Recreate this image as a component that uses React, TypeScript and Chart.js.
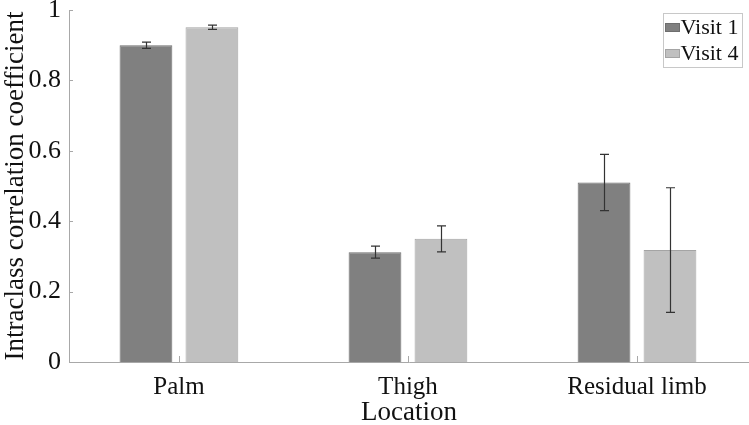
import React, { useEffect, useRef } from "react";
import { Chart, registerables } from "chart.js";

Chart.register(...registerables);

const categories = ["Palm", "Thigh", "Residual limb"];
const visit1 = [0.9, 0.312, 0.51];
const visit4 = [0.951, 0.35, 0.318];
const visit1Err = [0.009, 0.017, 0.08];
const visit4Err = [0.006, 0.037, 0.177];
const yTicks = [0, 0.2, 0.4, 0.6, 0.8, 1];
const seriesNames = ["Visit 1", "Visit 4"];

const FONT = "'Liberation Serif', 'Times New Roman', serif";
const AXIS = "#a8a8a8";

const errorPlugin = {
  id: "errorBars",
  afterDatasetsDraw(chart: any) {
    const ctx = chart.ctx;
    const y = chart.scales.y;
    const errs = [visit1Err, visit4Err];
    ctx.save();
    ctx.strokeStyle = "#333333";
    ctx.lineWidth = 1.2;
    chart.data.datasets.forEach((ds: any, di: number) => {
      const meta = chart.getDatasetMeta(di);
      meta.data.forEach((bar: any, i: number) => {
        const v = ds.data[i].y;
        const e = errs[di][i];
        const x = Math.round(bar.x) + 0.5;
        const yt = y.getPixelForValue(v + e);
        const yb = y.getPixelForValue(v - e);
        ctx.beginPath();
        ctx.moveTo(x, yt);
        ctx.lineTo(x, yb);
        ctx.moveTo(x - 4.5, yt);
        ctx.lineTo(x + 4.5, yt);
        ctx.moveTo(x - 4.5, yb);
        ctx.lineTo(x + 4.5, yb);
        ctx.stroke();
      });
    });
    ctx.restore();
  },
};

const axesPlugin = {
  id: "axesTicks",
  afterDraw(chart: any) {
    const ctx = chart.ctx;
    const { left, right, bottom, top } = chart.chartArea;
    const y = chart.scales.y;
    const x = chart.scales.x;
    ctx.save();
    ctx.strokeStyle = AXIS;
    ctx.lineWidth = 1;
    ctx.beginPath();
    ctx.moveTo(left + 0.5, top);
    ctx.lineTo(left + 0.5, bottom + 0.5);
    ctx.lineTo(right, bottom + 0.5);
    yTicks.forEach((t) => {
      const py = Math.round(y.getPixelForValue(t)) + 0.5;
      ctx.moveTo(left, py);
      ctx.lineTo(left + 4, py);
    });
    categories.forEach((_, i) => {
      const px = Math.round(x.getPixelForValue(i)) + 0.5;
      ctx.moveTo(px, bottom);
      ctx.lineTo(px, bottom - 6);
    });
    ctx.stroke();

    // legend
    const bx = 663.5, by = 13.5, bw = 79, bh = 54;
    ctx.fillStyle = "#ffffff";
    ctx.fillRect(bx, by, bw, bh);
    ctx.strokeStyle = "#c8c8c8";
    ctx.strokeRect(bx, by, bw, bh);
    const fills = ["#808080", "#c0c0c0"];
    const borders = ["#6e6e6e", "#a4a4a4"];
    ctx.font = `22px ${FONT}`;
    ctx.textBaseline = "middle";
    ctx.textAlign = "left";
    seriesNames.forEach((name, i) => {
      const cy = 27.5 + i * 26;
      ctx.fillStyle = fills[i];
      ctx.fillRect(665.5, cy - 4, 14, 8);
      ctx.strokeStyle = borders[i];
      ctx.strokeRect(665.5, cy - 4, 14, 8);
      ctx.fillStyle = "#111111";
      ctx.fillText(name, 680.5, cy + 1);
    });
    ctx.restore();
  },
};

export default function App() {
  const ref = useRef<HTMLCanvasElement | null>(null);
  useEffect(() => {
    document.body.style.margin = "0";
    const canvas = ref.current!;
    const mk = (vals: number[]) => vals.map((v, i) => ({ x: i, y: v }));
    const chart = new Chart(canvas, {
      type: "bar",
      data: {
        datasets: [
          {
            label: seriesNames[0],
            data: mk(visit1),
            backgroundColor: "#808080",
            borderColor: "#6e6e6e",
            borderWidth: 1,
            categoryPercentage: 0.576,
            barPercentage: 0.8,
          },
          {
            label: seriesNames[1],
            data: mk(visit4),
            backgroundColor: "#c0c0c0",
            borderColor: "#a4a4a4",
            borderWidth: 1,
            categoryPercentage: 0.576,
            barPercentage: 0.8,
          },
        ],
      },
      options: {
        animation: false,
        responsive: false,
        devicePixelRatio: 1,
        layout: { padding: { top: 10, right: 0, left: 0, bottom: 0 } },
        plugins: {
          legend: { display: false },
          tooltip: { enabled: false },
        },
        scales: {
          x: {
            type: "linear",
            min: -0.48,
            max: 2.489,
            offset: false,
            grid: { display: false, drawTicks: false },
            border: { display: false },
            afterBuildTicks: (s: any) => {
              s.ticks = categories.map((_, i) => ({ value: i }));
            },
            ticks: {
              color: "#111111",
              font: { family: FONT, size: 25 },
              padding: 10,
              maxRotation: 0,
              autoSkip: false,
              callback: (v: any) => categories[Math.round(Number(v))] ?? "",
            },
            title: {
              display: true,
              text: "Location",
              color: "#111111",
              font: { family: FONT, size: 27, lineHeight: 0.9 },
              padding: 0,
            },
            afterFit: (s: any) => {
              s.height = 63;
              s.paddingLeft = 0;
              s.paddingRight = 0;
            },
          },
          y: {
            min: 0,
            max: 1,
            grid: { display: false, drawTicks: false },
            border: { display: false },
            afterBuildTicks: (s: any) => {
              s.ticks = yTicks.map((v) => ({ value: v }));
            },
            ticks: {
              color: "#111111",
              font: { family: FONT, size: 26 },
              padding: 8,
              callback: (v: any) => String(Number(v)),
            },
            title: {
              display: true,
              text: "Intraclass correlation coefficient",
              color: "#111111",
              font: { family: FONT, size: 27 },
              padding: 0,
            },
            afterFit: (s: any) => {
              s.width = 69;
              s.paddingTop = 0;
              s.paddingBottom = 0;
            },
          },
        },
      },
      plugins: [errorPlugin, axesPlugin],
    } as any);
    return () => chart.destroy();
  }, []);
  return <canvas ref={ref} width={749} height={425} style={{ display: "block" }} />;
}
